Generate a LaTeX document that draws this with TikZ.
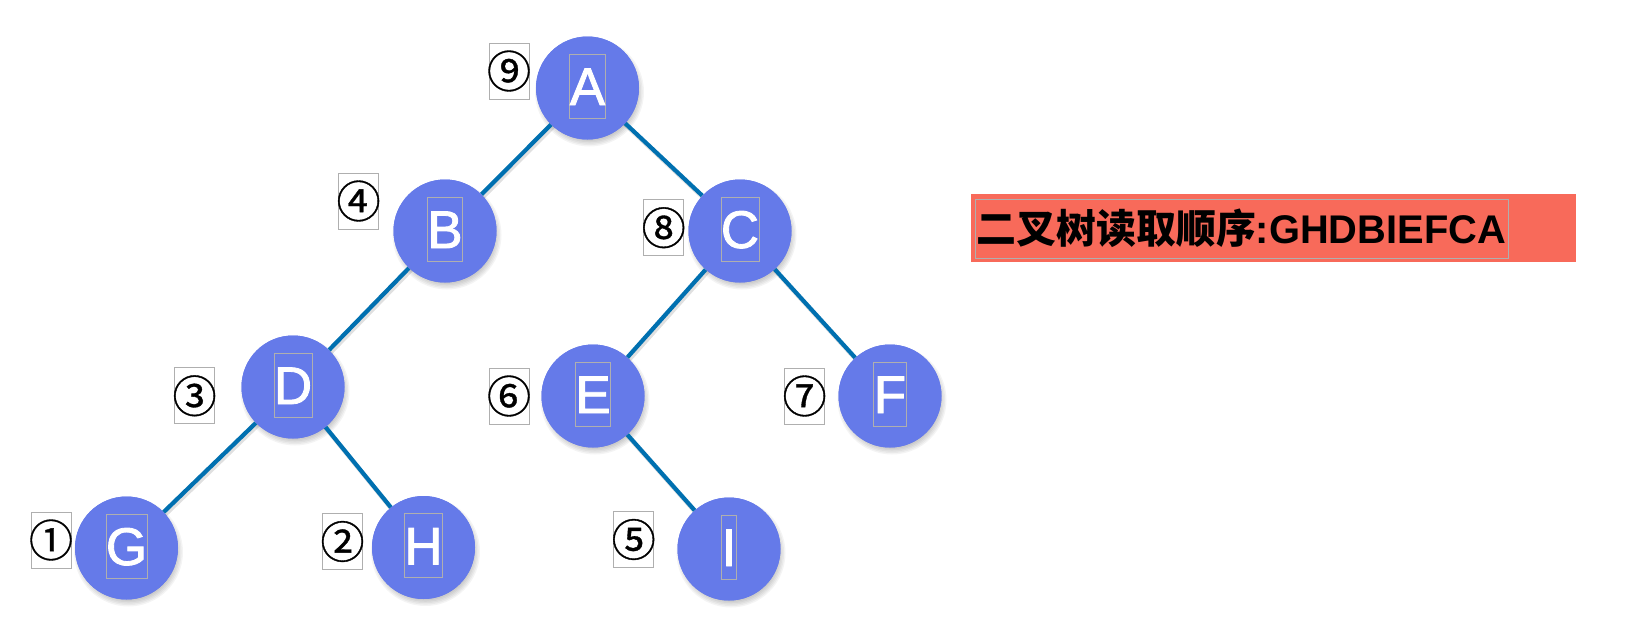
\documentclass[tikz,border=0pt]{standalone}
\usepackage{fontspec}
\setmainfont{Liberation Sans}
\newfontfamily\cjk{Noto Sans CJK SC}
\newfontfamily\circfont[FakeBold=0.8]{Noto Sans CJK SC}
\newfontfamily\letterfont{Liberation Sans}[BoldFont=Liberation Sans,BoldFeatures={FakeBold=1.6}]
\usetikzlibrary{calc}
\definecolor{nodeblue}{RGB}{101,122,233}
\definecolor{edgeblue}{RGB}{0,112,176}
\definecolor{labred}{RGB}{248,106,90}
\definecolor{boxgray}{RGB}{175,175,175}
\newcommand{\circnum}[1]{\makebox[0pt]{#1}}
\tikzset{
  treenode/.style={circle,fill=nodeblue,minimum size=103pt,inner sep=0pt},
  letterbox/.style={draw=boxgray,line width=0.7pt,inner sep=0pt,text=white,
    text height=51pt,text depth=13pt,font=\letterfont\bfseries\fontsize{53}{53}\selectfont},
  numbox/.style={draw=boxgray,line width=0.7pt,inner sep=0pt,minimum width=40pt,
    minimum height=56pt,font=\circfont\fontsize{44}{44}\selectfont},
  edgeline/.style={draw=edgeblue,line width=4.2pt},
  edgeshadow/.style={draw=black,opacity=0.12,line width=4.5pt},
}
\begin{document}
\begin{tikzpicture}[x=1pt,y=-1pt]
\useasboundingbox (0,0) rectangle (1644,622);
% positions
\foreach \n/\x/\y in {A/587.5/88, B/445/231, C/740/231, D/293/387, E/593/396,
  F/890/396, G/126.5/548, H/423.5/547.5, I/729/549}{
  \coordinate (p\n) at (\x,\y);
}
% soft shadows
\foreach \n in {A,B,C,D,E,F,G,H,I}{
  \foreach \k in {0,1,2,3,4,5}{
    \fill[black,opacity=0.045] ($(p\n)+(2,4)$) circle ({47.5pt+\k*1.4pt});
  }
}
% circles
\foreach \n in {A,B,C,D,E,F,G,H,I}{
  \node[treenode] (\n) at (p\n) {};
}
% edges
\foreach \a/\b in {A/B, A/C, B/D, D/G, D/H, C/E, C/F, E/I}{
  \path[edgeshadow] ($(\a)+(1.5,2.5)$) -- ($(\b)+(1.5,2.5)$);
}
\foreach \a/\b in {A/B, A/C, B/D, D/G, D/H, C/E, C/F, E/I}{
  \draw[edgeline] (\a) -- (\b);
}
% redraw circles over edge shadows
\foreach \n in {A,B,C,D,E,F,G,H,I}{
  \node[treenode] (\n c) at (p\n) {};
}
% letters
\foreach \n in {A,B,C,D,E,F,G,H,I}{
  \node[letterbox] (\n t) at ($(p\n)+(0,-2)$) {\n};
}
% order labels
\node[numbox] (n9) at (509,71) {\circnum{⑨}};
\node[numbox] (n4) at (358.6,201) {\circnum{④}};
\node[numbox] (n8) at (663.7,227.7) {\circnum{⑧}};
\node[numbox] (n3) at (194.6,395.8) {\circnum{③}};
\node[numbox] (n6) at (509,396) {\circnum{⑥}};
\node[numbox] (n7) at (804.6,396) {\circnum{⑦}};
\node[numbox] (n1) at (51,540) {\circnum{①}};
\node[numbox] (n2) at (342.5,541.5) {\circnum{②}};
\node[numbox] (n5) at (633.7,539.5) {\circnum{⑤}};
% caption
\fill[labred] (971,194) rectangle (1576,262);
\node[draw=boxgray,line width=0.7pt,inner sep=0pt,minimum width=533pt,minimum height=59pt]
  (cap) at (1241.5,228.5)
  {\resizebox{529pt}{\height}{\fontsize{40}{40}\selectfont\bfseries{\cjk\bfseries 二叉树读取顺序}:GHDBIEFCA}};
\end{tikzpicture}
\end{document}
